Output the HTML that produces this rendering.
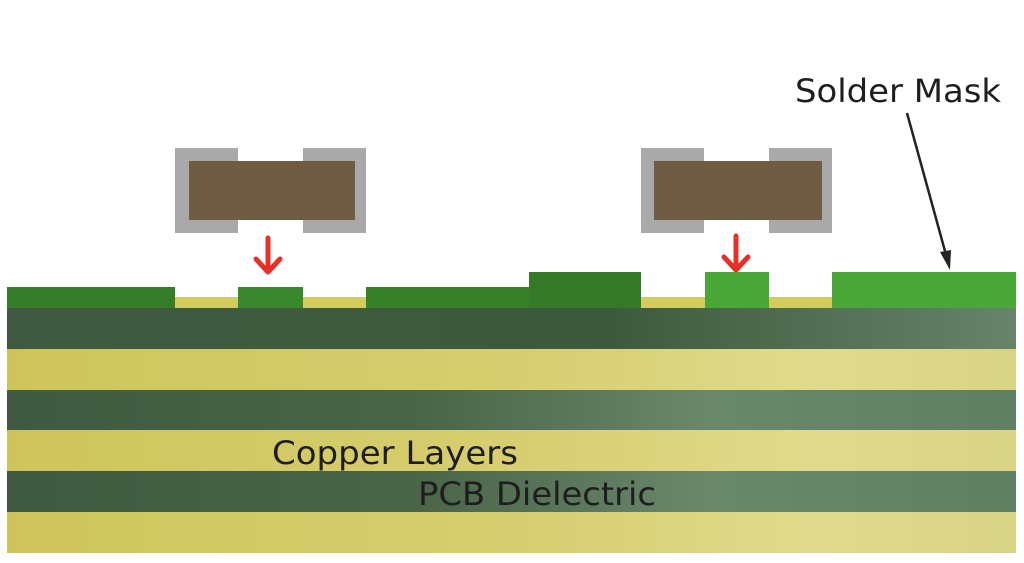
<!DOCTYPE html>
<html><head><style>html,body{margin:0;padding:0;background:#fff;}svg{display:block}</style></head>
<body>
<svg width="1024" height="563" viewBox="0 0 1024 563" xmlns="http://www.w3.org/2000/svg">
<defs>
<linearGradient id="dk" x1="0" x2="1" y1="0" y2="0">
<stop offset="0" stop-color="#3f5a40"/><stop offset="0.6" stop-color="#3e5a3e"/><stop offset="1" stop-color="#66846a"/>
</linearGradient>
<linearGradient id="dk2" x1="0" x2="1" y1="0" y2="0">
<stop offset="0" stop-color="#3f5a40"/><stop offset="0.4" stop-color="#4a6448"/><stop offset="0.7" stop-color="#6a886c"/><stop offset="1" stop-color="#5f7f62"/>
</linearGradient>
<linearGradient id="yl" x1="0" x2="1" y1="0" y2="0">
<stop offset="0" stop-color="#cdc55a"/><stop offset="0.5" stop-color="#d6ce70"/><stop offset="0.8" stop-color="#e0da8c"/><stop offset="1" stop-color="#d8d385"/>
</linearGradient>
</defs>
<rect x="7" y="308" width="1009" height="41" fill="url(#dk)"/>
<rect x="7" y="349" width="1009" height="41" fill="url(#yl)"/>
<rect x="7" y="390" width="1009" height="40" fill="url(#dk2)"/>
<rect x="7" y="430" width="1009" height="41" fill="url(#yl)"/>
<rect x="7" y="471" width="1009" height="41" fill="url(#dk2)"/>
<rect x="7" y="512" width="1009" height="41" fill="url(#yl)"/>
<rect x="175" y="297" width="191" height="11" fill="#d4cb5e"/>
<rect x="641" y="297" width="191" height="11" fill="#d4cb5e"/>
<rect x="7" y="287" width="168" height="21" fill="#367e2a"/>
<rect x="238" y="287" width="65" height="21" fill="#3a882e"/>
<rect x="366" y="287" width="163" height="21" fill="#378028"/>
<rect x="529" y="272" width="112" height="36" fill="#347a28"/>
<rect x="705" y="272" width="64" height="36" fill="#4aa838"/>
<rect x="832" y="272" width="184" height="36" fill="#4aa838"/>
<rect x="175" y="148" width="191" height="85" fill="#a9a9a9"/>
<rect x="238" y="148" width="65" height="13" fill="#fff"/>
<rect x="238" y="220" width="65" height="13" fill="#fff"/>
<rect x="189" y="161" width="166" height="59" fill="#6e5c45"/>
<rect x="641" y="148" width="191" height="85" fill="#a9a9a9"/>
<rect x="704" y="148" width="65" height="13" fill="#fff"/>
<rect x="704" y="220" width="65" height="13" fill="#fff"/>
<rect x="654" y="161" width="168" height="59" fill="#6e5c45"/>
<g stroke="#e8302a" stroke-width="5" fill="none" stroke-linecap="round" stroke-linejoin="round">
<path d="M268 238 V272 M256 259 L268 272 L280 259"/>
<path d="M736 236 V269 M724 257 L736 270 L748 257"/>
</g>
<line x1="907" y1="113" x2="948" y2="262" stroke="#222" stroke-width="2.5"/>
<path d="M950 270 L940 252 L951 250 Z" fill="#222"/>
<g font-family="DejaVu Sans, Liberation Sans, sans-serif" font-size="32" fill="#1e1e1e">
<text x="795" y="102" textLength="206" lengthAdjust="spacingAndGlyphs">Solder Mask</text>
<text x="272" y="464" textLength="246" lengthAdjust="spacingAndGlyphs">Copper Layers</text>
<text x="418" y="505" textLength="238" lengthAdjust="spacingAndGlyphs">PCB Dielectric</text>
</g>
</svg>
</body></html>
